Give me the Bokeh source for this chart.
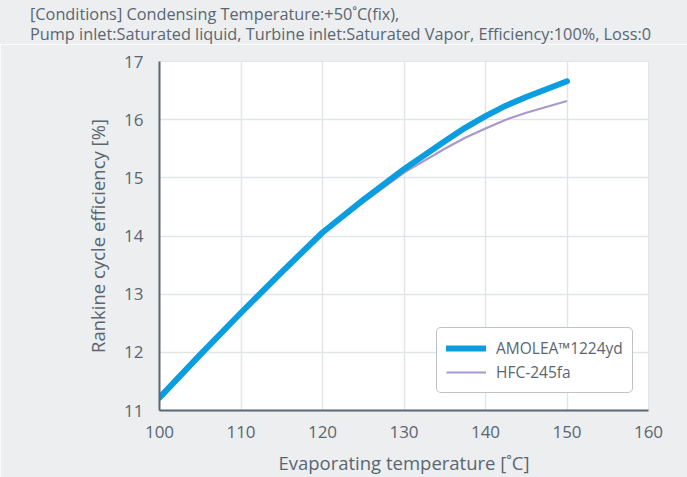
from bokeh.plotting import figure
from bokeh.models import FixedTicker, Legend, LegendItem, Div
from bokeh.layouts import column
from bokeh.embed import file_html
from bokeh.resources import INLINE

temps = [100, 105, 110, 115, 120, 125, 130, 135, 137.5, 140, 142.5, 145, 150]
amolea = [11.22, 11.96, 12.68, 13.38, 14.06, 14.62, 15.15, 15.63, 15.86, 16.06, 16.24, 16.39, 16.66]
hfc = [11.20, 11.94, 12.66, 13.36, 14.04, 14.58, 15.09, 15.50, 15.69, 15.85, 16.00, 16.12, 16.32]
x_ticks = [100, 110, 120, 130, 140, 150, 160]
y_ticks = [11, 12, 13, 14, 15, 16, 17]
title_lines = [
    "[Conditions] Condensing Temperature:+50\u02daC(fix),",
    "Pump inlet:Saturated liquid, Turbine inlet:Saturated Vapor, Efficiency:100%, Loss:0",
]

FONT = "Open Sans"
TXT = "#5a6670"
BG = "#eceef0"
W, H = 687, 477
HEAD = 44

head_html = "".join(
    f'<div style="white-space:nowrap;line-height:20px;">{t}</div>' for t in title_lines)
head = Div(text=head_html, width=W, height=HEAD, margin=0,
           styles={"background-color": BG, "font-family": FONT, "font-size": "16.3px",
                   "color": TXT, "padding-left": "30px", "padding-top": "4px",
                   "box-sizing": "border-box", "overflow": "hidden"})

p = figure(width=W, height=H - HEAD, output_backend="svg", toolbar_location=None,
           x_range=(100, 160), y_range=(11, 17),
           min_border_left=159, min_border_right=39, min_border_bottom=67, min_border_top=61 - HEAD)
p.background_fill_color = "white"
p.border_fill_color = BG
p.outline_line_color = "#e2e5e8"

for ax in (p.xaxis[0], p.yaxis[0]):
    ax.axis_line_color = TXT
    ax.axis_line_width = 2
    ax.major_tick_line_color = None
    ax.minor_tick_line_color = None
    ax.major_label_text_font = FONT
    ax.major_label_text_font_size = "17px"
    ax.major_label_text_color = TXT
    ax.axis_label_text_font = FONT
    ax.axis_label_text_font_size = "18.5px"
    ax.axis_label_text_font_style = "normal"
    ax.axis_label_text_color = TXT

p.xaxis.ticker = FixedTicker(ticks=x_ticks)
p.yaxis.ticker = FixedTicker(ticks=y_ticks)
p.xaxis.axis_label = "Evaporating temperature [\u02daC]"
p.yaxis.axis_label = "Rankine cycle efficiency [%]"
p.xaxis.major_label_standoff = 9
p.yaxis.major_label_standoff = 10
p.xaxis.axis_label_standoff = 9
p.yaxis.axis_label_standoff = 11

p.grid.grid_line_color = "#e2e5e8"
p.grid.grid_line_width = 1.5

r_hfc = p.line(temps, hfc, line_color="#a898cc", line_width=2.2, line_join="round")
r_am = p.line(temps, amolea, line_color="#0a9de0", line_width=6, line_cap="round", line_join="round")

legend = Legend(items=[LegendItem(label="AMOLEA\u21221224yd", renderers=[r_am]),
                       LegendItem(label="HFC-245fa", renderers=[r_hfc])],
                location=(277, 17))
legend.label_text_font = FONT
legend.label_text_font_size = "15.5px"
legend.label_text_color = TXT
legend.border_line_color = "#7d878f"
legend.border_line_width = 1
legend.glyph_width = 40
legend.glyph_height = 18
legend.spacing = 2
legend.padding = 9
legend.margin = 0
legend.label_standoff = 10
if "border_radius" in Legend.properties():
    legend.border_radius = 5
p.add_layout(legend, "center")

layout = column(head, p, spacing=0)
open("out.html", "w").write(file_html(layout, INLINE))
